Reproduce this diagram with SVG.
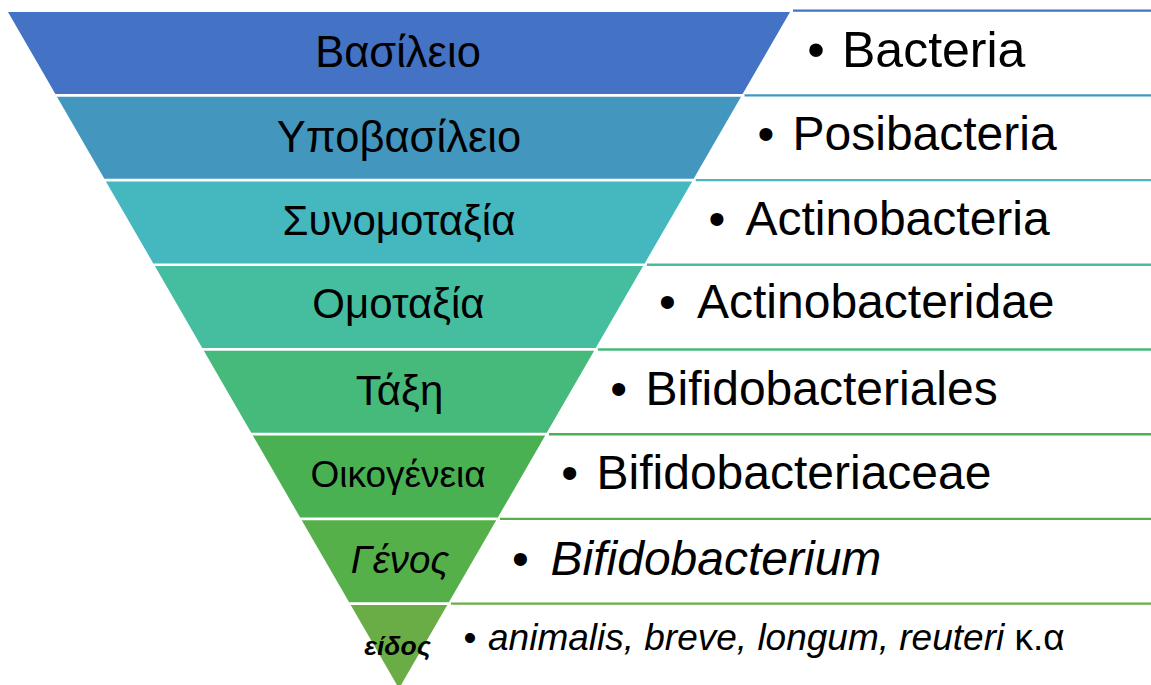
<svg xmlns="http://www.w3.org/2000/svg" width="1151" height="685" viewBox="0 0 1151 685">
<style>
.lab{font-family:"Liberation Sans",Arial,sans-serif;fill:#000;text-anchor:middle}
.txt{font-family:"Liberation Sans",Arial,sans-serif;fill:#000}
.bul{text-anchor:middle}
.ln{stroke-width:2.4;fill:none}
</style>
<rect width="1151" height="685" fill="#fff"/>
<g id="connectors">
<line class="ln" x1="793" y1="10.6" x2="1151" y2="10.6" stroke="#4472C4"/>
<line class="ln" x1="744.5" y1="95.4" x2="1151" y2="95.4" stroke="#4397BF"/>
<line class="ln" x1="695.8" y1="180.1" x2="1151" y2="180.1" stroke="#45B7BF"/>
<line class="ln" x1="646.9" y1="264.8" x2="1151" y2="264.8" stroke="#45BE9F"/>
<line class="ln" x1="597.9" y1="349.5" x2="1151" y2="349.5" stroke="#46BA7B"/>
<line class="ln" x1="549" y1="434.2" x2="1151" y2="434.2" stroke="#4AB152"/>
<line class="ln" x1="500" y1="518.9" x2="1151" y2="518.9" stroke="#55B04A"/>
<line class="ln" x1="451" y1="603.6" x2="1151" y2="603.6" stroke="#6AAD47"/>
</g>
<g id="n0">
<polygon points="8,12 790,12 742.6,94 55.4,94" fill="#4472C4"/>
<text class="lab" x="398" y="66.7" font-size="43.5">Βασίλειο</text>
<text class="txt" y="66.7" font-size="50"><tspan class="bul" x="816">•</tspan><tspan x="842">Bacteria</tspan></text>
</g>
<g id="n1">
<polygon points="56.96,96.7 741.04,96.7 693.65,178.7 104.35,178.7" fill="#4397BF"/>
<text class="lab" x="399" y="151.7" font-size="43.5">Υποβασίλειο</text>
<text class="txt" y="150" font-size="48"><tspan class="bul" x="766">•</tspan><tspan x="792.5">Posibacteria</tspan></text>
</g>
<g id="n2">
<polygon points="105.91,181.4 692.09,181.4 644.69,263.4 153.31,263.4" fill="#45B7BF"/>
<text class="lab" x="399" y="235" font-size="42">Συνομοταξία</text>
<text class="txt" y="235" font-size="48"><tspan class="bul" x="717">•</tspan><tspan x="745.5">Actinobacteria</tspan></text>
</g>
<g id="n3">
<polygon points="154.87,266.1 643.13,266.1 595.73,348.1 202.27,348.1" fill="#45BE9F"/>
<text class="lab" x="398.5" y="318.3" font-size="42">Ομοταξία</text>
<text class="txt" y="318.3" font-size="48"><tspan class="bul" x="667.5">•</tspan><tspan x="697">Actinobacteridae</tspan></text>
</g>
<g id="n4">
<polygon points="203.83,350.8 594.17,350.8 546.78,432.8 251.22,432.8" fill="#46BA7B"/>
<text class="lab" x="399.5" y="405" font-size="42">Τάξη</text>
<text class="txt" y="405" font-size="48"><tspan class="bul" x="618.7">•</tspan><tspan x="645.5">Bifidobacteriales</tspan></text>
</g>
<g id="n5">
<polygon points="252.78,435.5 545.22,435.5 497.82,517.5 300.18,517.5" fill="#4AB152"/>
<text class="lab" x="398" y="487" font-size="37">Οικογένεια</text>
<text class="txt" y="489.3" font-size="48"><tspan class="bul" x="569.7">•</tspan><tspan x="596.5">Bifidobacteriaceae</tspan></text>
</g>
<g id="n6">
<polygon points="301.74,520.2 496.26,520.2 448.86,602.2 349.14,602.2" fill="#55B04A"/>
<text class="lab" x="400" y="573" font-size="38.5" font-style="italic">Γένος</text>
<text class="txt" y="575" font-size="48"><tspan class="bul" x="520.5">•</tspan><tspan x="550.5" font-style="italic">Bifidobacterium</tspan></text>
</g>
<g id="n7">
<polygon points="350.7,604.9 447.3,604.9 399,688.5" fill="#6AAD47"/>
<text class="lab" x="397.5" y="655" font-size="26.5" font-style="italic" font-weight="bold">είδος</text>
<text class="txt" y="650" font-size="37"><tspan class="bul" x="470">•</tspan><tspan x="488" font-style="italic">animalis, breve, longum, reuteri</tspan><tspan> κ.α</tspan></text>
</g>
</svg>
